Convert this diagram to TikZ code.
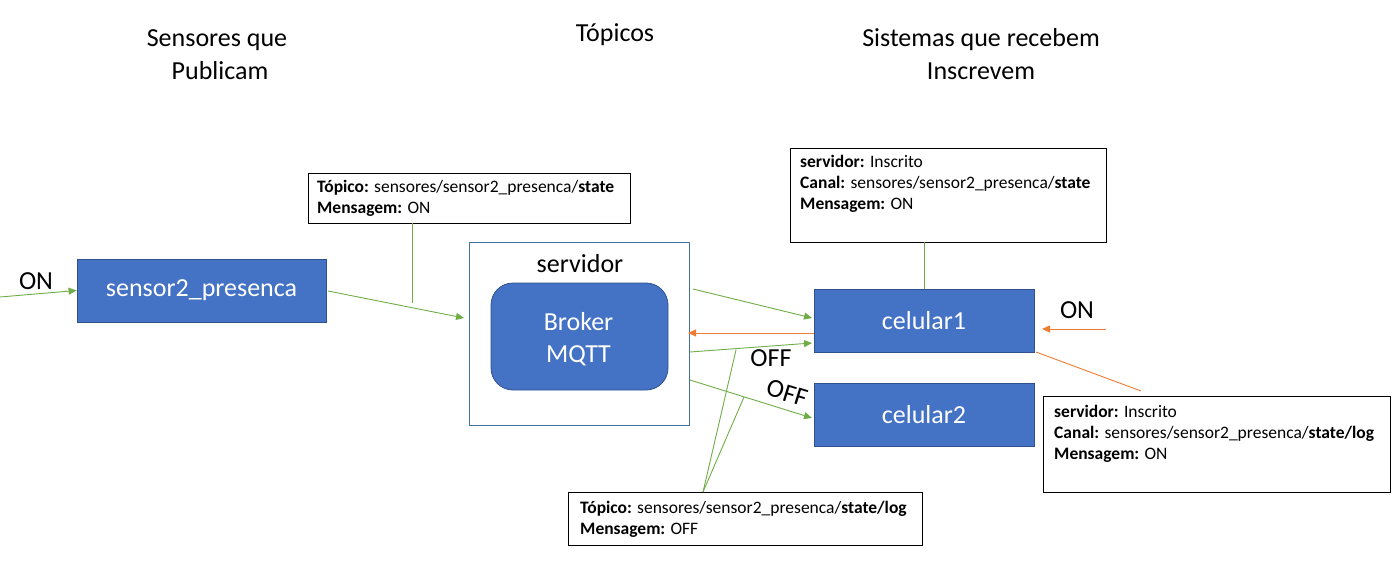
\documentclass[tikz,border=0pt]{standalone}
\usepackage{fontspec}
\setmainfont{Carlito}
\usetikzlibrary{arrows.meta}
\definecolor{bluefill}{HTML}{4472C4}
\definecolor{blueedge}{HTML}{2F528F}
\definecolor{srvedge}{HTML}{41719C}
\definecolor{grn}{HTML}{70AD47}
\definecolor{org}{HTML}{ED7D31}
\tikzset{
  bluebox/.style={draw=blueedge, fill=bluefill, line width=0.8pt, text=white, font=\fontsize{26}{32}\selectfont},
  callout/.style={draw=black, line width=0.9pt, fill=white},
  ctext/.style={anchor=base west, inner sep=0pt, font=\fontsize{17.5}{21}\selectfont},
  title/.style={font=\fontsize{26}{31}\selectfont, inner sep=0pt},
  lbl/.style={font=\fontsize{26}{31}\selectfont, inner sep=0pt},
  garrow/.style={draw=grn, line width=0.9pt, -{Triangle[length=8pt,width=7pt]}},
  oarrow/.style={draw=org, line width=1pt, -{Triangle[length=8pt,width=7pt]}},
  gline/.style={draw=grn, line width=0.9pt},
  oline/.style={draw=org, line width=0.9pt},
}
\begin{document}
\begin{tikzpicture}[x=1pt,y=-1pt]
\useasboundingbox (0,0) rectangle (1399,577);
% titles
\node[title] (t1a) at (217,40) {Sensores que};
\node[title] (t1b) at (220,71) {Publicam};
\node[title] (t2) at (615,35) {Tópicos};
\node[title] (t3a) at (981,40) {Sistemas que recebem};
\node[title] (t3b) at (981,71) {Inscrevem};
% boxes
\node[bluebox, minimum width=249pt, minimum height=63pt] (sensor) at (201.5,290.5) {sensor2\_presenca};
\node[draw=srvedge, line width=0.8pt, minimum width=220pt, minimum height=183pt, inner sep=0pt] (srv) at (579,333.5) {};
\node[lbl] (srvlbl) at (580,264) {servidor};
\node[bluebox, rounded corners=22pt, minimum width=177pt, minimum height=107pt, align=center, text depth=0pt] (broker) at (579.5,336.5) {};
\node[text=white, font=\fontsize{26}{32}\selectfont, inner sep=0pt, align=center] (brokertxt) at (578.5,339) {Broker\\MQTT};
\node[bluebox, minimum width=220pt, minimum height=63pt] (cel1) at (924,320.5) {celular1};
\node[bluebox, minimum width=220pt, minimum height=63pt] (cel2) at (924,414.5) {celular2};
% callouts
\node[callout, minimum width=322pt, minimum height=50pt, inner sep=0pt] (c1) at (469,198) {};
\node[ctext] at (317,193) {\textbf{Tópico:} sensores/sensor2\_presenca/\textbf{state}};
\node[ctext] at (317,214) {\textbf{Mensagem:} ON};
\node[callout, minimum width=316pt, minimum height=94pt, inner sep=0pt] (c2) at (948,195) {};
\node[ctext] at (800,168) {\textbf{servidor:} Inscrito};
\node[ctext] at (800,189) {\textbf{Canal:} sensores/sensor2\_presenca/\textbf{state}};
\node[ctext] at (800,210) {\textbf{Mensagem:} ON};
\node[callout, minimum width=347pt, minimum height=96pt, inner sep=0pt] (c3) at (1216.5,444) {};
\node[ctext] at (1054,417) {\textbf{servidor:} Inscrito};
\node[ctext] at (1054,438) {\textbf{Canal:} sensores/sensor2\_presenca/\textbf{state/log}};
\node[ctext] at (1054,459) {\textbf{Mensagem:} ON};
\node[callout, minimum width=354pt, minimum height=53pt, inner sep=0pt] (c4) at (745,518.5) {};
\node[ctext] at (580,513) {\textbf{Tópico:} sensores/sensor2\_presenca/\textbf{state/log}};
\node[ctext] at (580,534) {\textbf{Mensagem:} OFF};
% labels
\node[lbl] (onl) at (36,281) {ON};
\node[lbl] (onr) at (1077,310) {ON};
\node[lbl] (off1) at (771,358) {OFF};
\node[lbl, rotate=-17] (off2) at (787,393) {OFF};
% coordinates
\coordinate (inL) at (0,297);
\coordinate (inR) at (1106,329);
\coordinate (c1foot) at (412,303);
\coordinate (s1) at (328,291);
\coordinate (e1) at (464,318);
\coordinate (s2) at (693,289);
\coordinate (e2) at (812,318);
\coordinate (s3) at (814,333);
\coordinate (e3) at (688,333);
\coordinate (s4) at (690,352);
\coordinate (e4) at (812,343);
\coordinate (s5) at (690,380);
\coordinate (e5) at (812,418);
\coordinate (c4top) at (703,492);
\coordinate (m1) at (736,350);
\coordinate (m2) at (744,397);
\coordinate (cel1c) at (1036,352);
\coordinate (c3tip) at (1141,391);
\coordinate (inRend) at (1042,329);
% connectors
\draw[garrow] (inL) -- (sensor.west);
\draw[gline] (c1.south -| c1foot) -- (c1foot);
\draw[garrow] (s1) -- (e1);
\draw[gline] (c2.south -| cel1) -- (cel1.north);
\draw[garrow] (s2) -- (e2);
\draw[oarrow] (s3) -- (e3);
\draw[garrow] (s4) -- (e4);
\draw[garrow] (s5) -- (e5);
\draw[oarrow] (inR) -- (inRend);
\draw[oline] (cel1c) -- (c3tip);
\draw[gline] (c4top) -- (m1);
\draw[gline] (c4top) -- (m2);
\end{tikzpicture}
\end{document}
